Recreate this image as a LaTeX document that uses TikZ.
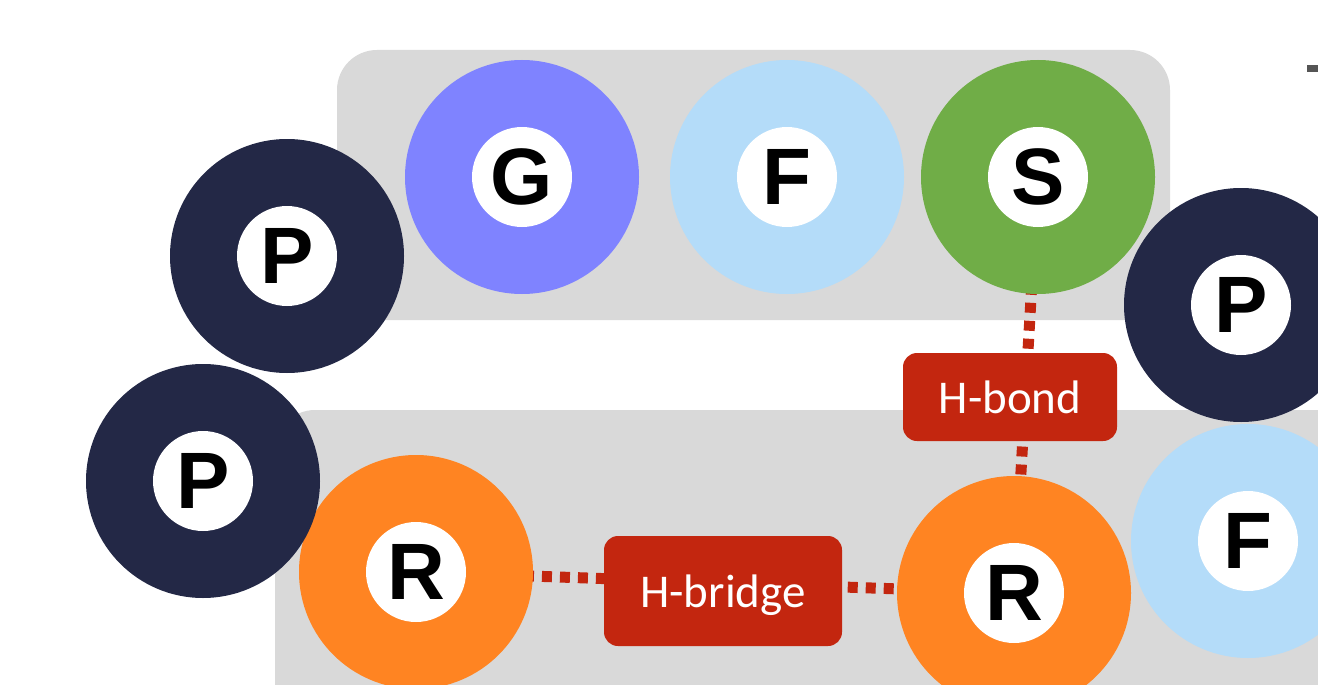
\documentclass[tikz,border=0pt]{standalone}
\usepackage{fontspec}
\setmainfont{Liberation Sans}
\newfontfamily\boxfont{Carlito}
\definecolor{navy}{RGB}{35,40,70}
\definecolor{gblue}{RGB}{127,131,255}
\definecolor{lblue}{RGB}{180,220,249}
\definecolor{sgreen}{RGB}{112,173,71}
\definecolor{rorange}{RGB}{255,132,34}
\definecolor{bgray}{RGB}{217,217,217}
\definecolor{hred}{RGB}{195,38,15}
\definecolor{dashgray}{RGB}{85,85,85}
\tikzset{
  ball/.style={circle, minimum size=234pt, inner sep=0pt, fill=#1},
  core/.style={circle, minimum size=100pt, inner sep=0pt, fill=white,
    font=\fontsize{80}{82}\selectfont\bfseries},
  hbox/.style={rounded corners=14pt, fill=hred, text=white, inner sep=0pt,
    font=\boxfont\fontsize{47}{50}\selectfont},
  hline/.style={draw=hred, line width=11pt, dash pattern=on 10pt off 8pt},
  panel/.style={fill=bgray, rounded corners=40pt}
}
\begin{document}
\begin{tikzpicture}[x=1pt,y=-1pt]
\useasboundingbox (0,0) rectangle (1318,685);
\clip (0,0) rectangle (1318,685);
\fill[white] (0,0) rectangle (1318,685);
% panels
\path[panel] (337,50) rectangle (1170,320);
\path[panel] (275,410) rectangle (1400,760);
\fill[dashgray] (1307,65) rectangle (1318,72);
% node positions
\coordinate (cS) at (1038,177);
\coordinate (cR1) at (416,572);
\coordinate (cR2) at (1014,593);
% connectors (behind balls)
\draw[hline] (cS) -- (cR2);
\draw[hline] (cR1) -- (cR2);
% balls
\node[ball=navy] (P1) at (287,256) {};
\node[core] at (P1) {P};
\node[ball=gblue] (G) at (522,177) {};
\node[core] at (G) {G};
\node[ball=lblue] (F1) at (787,177) {};
\node[core] at (F1) {F};
\node[ball=sgreen] (S) at (cS) {};
\node[core] at (S) {S};
\node[ball=lblue] (F2) at (1248,541) {};
\node[core] at (F2) {F};
\node[ball=navy] (P2) at (1241,305) {};
\node[core] at (P2) {P};
\node[ball=rorange] (R1) at (cR1) {};
\node[core] at (R1) {R};
\node[ball=navy] (P3) at (203,481) {};
\node[core] at (P3) {P};
\node[ball=rorange] (R2) at (cR2) {};
\node[core] at (R2) {R};
% labels
\node[hbox, minimum width=214pt, minimum height=88pt] (hb) at (1010,397) {H-bond};
\node[hbox, minimum width=238pt, minimum height=110pt] (hbr) at (723,591) {};
\node[text=white, font=\boxfont\fontsize{47}{50}\selectfont, inner sep=0pt] at (723,595) {H-bridge};
\end{tikzpicture}
\end{document}
